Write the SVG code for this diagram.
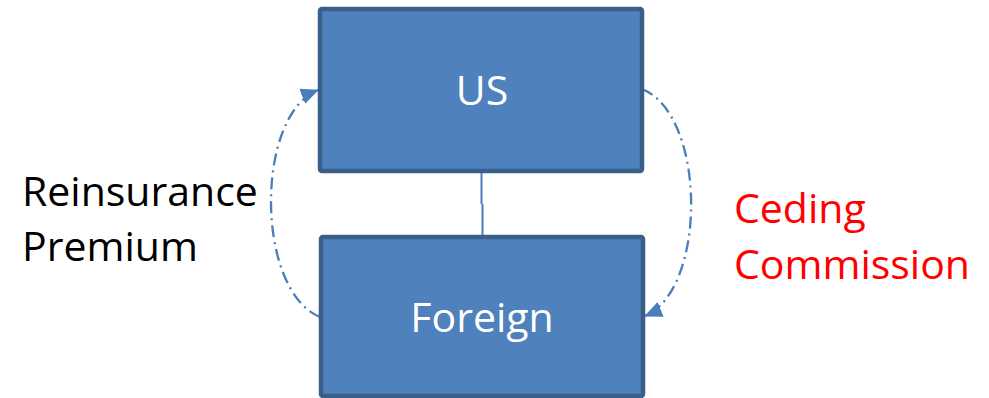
<svg xmlns="http://www.w3.org/2000/svg" width="989" height="398" viewBox="0 0 989 398">
<style>
.box{fill:#4F81BD;stroke:#3A5F8B;stroke-width:4.5}
.lbl{font-family:"Open Sans","Liberation Sans",sans-serif;font-size:41px;fill:#fff;text-anchor:middle}
.side{font-family:"Open Sans","Liberation Sans",sans-serif;font-size:41px}
.arc{fill:none;stroke:#4A7EBB;stroke-width:2.3;stroke-dasharray:12 5 2 5}
</style>
<defs>
<marker id="ah" markerUnits="userSpaceOnUse" markerWidth="20" markerHeight="18" refX="17" refY="9" orient="auto">
<path d="M0,1 L18,9 L0,17 Z" fill="#4A7EBB"/>
</marker>
</defs>
<rect width="989" height="398" fill="#fff"/>
<g id="connectors">
<path d="M481.5,171 V204 M482.5,204 V236" stroke="#4A7EBB" stroke-width="2" fill="none"/>
<path class="arc" d="M320,317 C255,290 255,115 318,90" marker-end="url(#ah)"/>
<path class="arc" d="M642,89 C707,115 707,290 645,316" marker-end="url(#ah)"/>
</g>
<g id="us">
<rect class="box" x="320" y="9" width="322" height="162" rx="2"/>
<text class="lbl" x="482" y="105">US</text>
</g>
<g id="foreign">
<rect class="box" x="321" y="237" width="322" height="159" rx="2"/>
<text class="lbl" x="482" y="332">Foreign</text>
</g>
<g id="reinsurance-premium">
<text class="side" x="22" y="206" fill="#000">Reinsurance</text>
<text class="side" x="22" y="261" fill="#000">Premium</text>
</g>
<g id="ceding-commission">
<text class="side" x="734" y="223" fill="#FF0000">Ceding</text>
<text class="side" x="734" y="279" fill="#FF0000">Commission</text>
</g>
</svg>
